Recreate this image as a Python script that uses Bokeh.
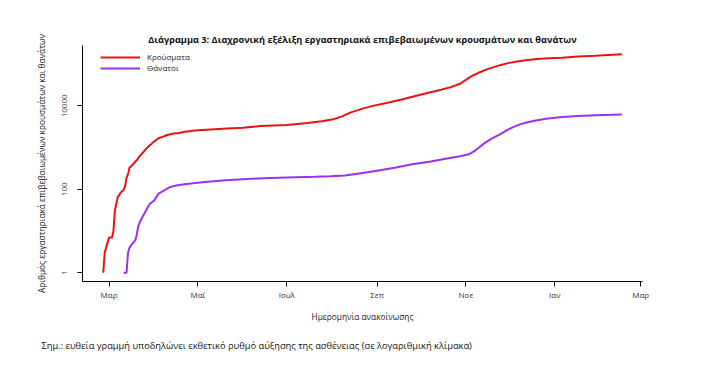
import pandas as pd
from bokeh.plotting import figure
from bokeh.models import ColumnDataSource, FixedTicker, Legend, LegendItem, Title, Range1d
from bokeh.embed import file_html
from bokeh.resources import INLINE
import math

# ---- data ----
case_dates = ["2020-02-26", "2020-02-27", "2020-02-28", "2020-03-01", "2020-03-03", "2020-03-04",
              "2020-03-05", "2020-03-06", "2020-03-07", "2020-03-08", "2020-03-09", "2020-03-10",
              "2020-03-11", "2020-03-12", "2020-03-13", "2020-03-14", "2020-03-15", "2020-03-16",
              "2020-03-17", "2020-03-18", "2020-03-19", "2020-03-20", "2020-03-22", "2020-03-24",
              "2020-03-26", "2020-03-28", "2020-03-30", "2020-04-01", "2020-04-04", "2020-04-07",
              "2020-04-10", "2020-04-14", "2020-04-18", "2020-04-22", "2020-04-26", "2020-05-01",
              "2020-05-10", "2020-05-21", "2020-06-01", "2020-06-13", "2020-07-01", "2020-07-15",
              "2020-07-25", "2020-08-02", "2020-08-08", "2020-08-14", "2020-08-22", "2020-08-29",
              "2020-09-09", "2020-09-18", "2020-09-28", "2020-10-07", "2020-10-15", "2020-10-22",
              "2020-10-28", "2020-11-01", "2020-11-05", "2020-11-10", "2020-11-15", "2020-11-20",
              "2020-11-25", "2020-11-30", "2020-12-06", "2020-12-12", "2020-12-20", "2020-12-28",
              "2021-01-06", "2021-01-17", "2021-01-29", "2021-02-16"]
cases = [1, 3, 4, 7, 7, 10,
         31, 45, 66, 73, 84, 89,
         99, 117, 190, 228, 331, 352,
         387, 418, 464, 495, 624, 743,
         892, 1061, 1212, 1415, 1673, 1832,
         2011, 2170, 2235, 2401, 2506, 2591,
         2720, 2890, 2980, 3300, 3500, 3910,
         4300, 4800, 5600, 7000, 8600, 10000,
         12000, 14200, 17500, 21000, 24500, 28500,
         34000, 42000, 52000, 63000, 74000, 85000,
         96000, 106000, 116000, 124000, 133000, 139000,
         143000, 152000, 160000, 173000]

death_dates = ["2020-03-11", "2020-03-13", "2020-03-14", "2020-03-15", "2020-03-17", "2020-03-19",
               "2020-03-20", "2020-03-21", "2020-03-22", "2020-03-24", "2020-03-27", "2020-03-29",
               "2020-04-01", "2020-04-04", "2020-04-08", "2020-04-12", "2020-04-17", "2020-04-22",
               "2020-04-29", "2020-05-06", "2020-05-20", "2020-06-01", "2020-06-15", "2020-07-01",
               "2020-07-20", "2020-07-31", "2020-08-10", "2020-08-22", "2020-09-01", "2020-09-14",
               "2020-09-25", "2020-10-07", "2020-10-18", "2020-10-28", "2020-11-03", "2020-11-07",
               "2020-11-10", "2020-11-14", "2020-11-19", "2020-11-24", "2020-11-29", "2020-12-03",
               "2020-12-08", "2020-12-14", "2020-12-20", "2020-12-26", "2021-01-06", "2021-01-17",
               "2021-01-29", "2021-02-16"]
deaths = [1, 1, 3, 4, 5, 6,
          8, 13, 16, 22, 34, 45,
          54, 79, 95, 114, 125, 132,
          142, 150, 165, 175, 185, 192,
          200, 206, 215, 245, 280, 333,
          400, 456, 540, 620, 690, 830,
          1010, 1300, 1660, 2050, 2600, 3050,
          3600, 4100, 4550, 4900, 5400, 5740,
          5970, 6220]

tick_dates = ["2020-03-01", "2020-05-01", "2020-07-01", "2020-09-01", "2020-11-01", "2021-01-01", "2021-03-01"]
tick_labels = ["Μαρ", "Μαΐ", "Ιουλ", "Σεπ", "Νοε", "Ιαν", "Μαρ"]
y_ticks = [1, 100, 10000]
y_tick_labels = ["1", "100", "10000"]

series_names = ["Κρούσματα", "Θάνατοι"]
series_colors = ["#ee1111", "#9b30f0"]

title_text = "Διάγραμμα 3: Διαχρονική εξέλιξη εργαστηριακά επιβεβαιωμένων κρουσμάτων και θανάτων"
x_label = "Ημερομηνία ανακοίνωσης"
y_label = "Αριθμός εργαστηριακά επιβεβαιωμένων κρουσμάτων και θανάτων"
note_text = "Σημ.: ευθεία γραμμή υποδηλώνει εκθετικό ρυθμό αύξησης της ασθένειας (σε λογαριθμική κλίμακα)"

# ---- build ----
def to_ms(d):
    return pd.Timestamp(d).value // 10**6

cx = [to_ms(d) for d in case_dates]
dx = [to_ms(d) for d in death_dates]
src_c = ColumnDataSource(dict(x=cx, y=cases))
src_d = ColumnDataSource(dict(x=dx, y=deaths))

all_x = cx + dx
xmin, xmax = min(all_x), max(all_x)
xpad = 0.04 * (xmax - xmin)
lo, hi = math.log10(min(cases + deaths)), math.log10(max(cases + deaths))
ypad = 0.04 * (hi - lo)

W, H = 685, 376
B_LEFT, B_RIGHT, B_TOP, B_BOTTOM = 82, 43, 45, H - 281

p = figure(width=W, height=H, output_backend="svg", toolbar_location=None,
           x_axis_type="datetime", y_axis_type="log",
           x_range=Range1d(xmin - xpad, xmax + xpad),
           y_range=Range1d(10 ** (lo - ypad), 10 ** (hi + ypad)),
           min_border_left=B_LEFT, min_border_right=B_RIGHT,
           min_border_top=B_TOP, min_border_bottom=B_BOTTOM)

p.outline_line_color = None
p.xgrid.grid_line_color = None
p.ygrid.grid_line_color = None
p.background_fill_color = "white"
p.border_fill_color = "white"

FONT = "Open Sans"

r1 = p.line("x", "y", source=src_c, line_color=series_colors[0], line_width=2)
r2 = p.line("x", "y", source=src_d, line_color=series_colors[1], line_width=2)

# x axis
xa = p.xaxis[0]
xa.ticker = FixedTicker(ticks=[to_ms(d) for d in tick_dates], minor_ticks=[])
xa.major_label_overrides = {to_ms(d): lab for d, lab in zip(tick_dates, tick_labels)}
xa.axis_label = x_label
# y axis
ya = p.yaxis[0]
ya.ticker = FixedTicker(ticks=y_ticks, minor_ticks=[])
ya.major_label_overrides = {t: lab for t, lab in zip(y_ticks, y_tick_labels)}
ya.major_label_orientation = "vertical"
ya.axis_label = y_label

for ax in (xa, ya):
    ax.axis_line_color = "black"
    ax.axis_line_width = 1
    ax.major_tick_line_color = "black"
    ax.major_tick_out = 5
    ax.major_tick_in = 0
    ax.minor_tick_line_color = None
    ax.major_label_text_font = FONT
    ax.major_label_text_font_size = "8px"
    ax.major_label_text_color = "#333333"
    ax.axis_label_text_font = FONT
    ax.axis_label_text_font_size = "8.3px"
    ax.axis_label_text_font_style = "normal"
    ax.axis_label_text_color = "#222222"

xa.major_label_standoff = 2
xa.axis_label_standoff = 8
ya.major_label_standoff = 10
ya.axis_label_standoff = 13

# real title, then an invisible spacer title between it and the frame
p.title.text = title_text
p.title.align = "center"
p.title.vertical_align = "bottom"
p.title.text_font = FONT
p.title.text_font_size = "9.2px"
p.title.text_font_style = "bold"
p.title.text_color = "#111111"
p.title.standoff = 0

spacer = Title(text=".", text_alpha=0, text_font=FONT, text_font_size="11px", standoff=0)
p.add_layout(spacer, "above")

note = Title(text=note_text, align="left", offset=-41, text_font=FONT,
             text_font_size="9.3px", text_font_style="normal", text_color="#111111", standoff=25)
p.add_layout(note, "below")

frame_h = H - B_TOP - B_BOTTOM
legend = Legend(items=[LegendItem(label=series_names[0], renderers=[r1]),
                       LegendItem(label=series_names[1], renderers=[r2])],
                location=(18, frame_h - 8 - 20),
                border_line_color=None, background_fill_alpha=0,
                padding=0, margin=0, spacing=-4,
                glyph_width=40, glyph_height=10, label_height=10,
                label_standoff=7,
                label_text_font=FONT, label_text_font_size="8px", label_text_color="#222222")
p.add_layout(legend)

open("out.html", "w").write(file_html(p, INLINE))
